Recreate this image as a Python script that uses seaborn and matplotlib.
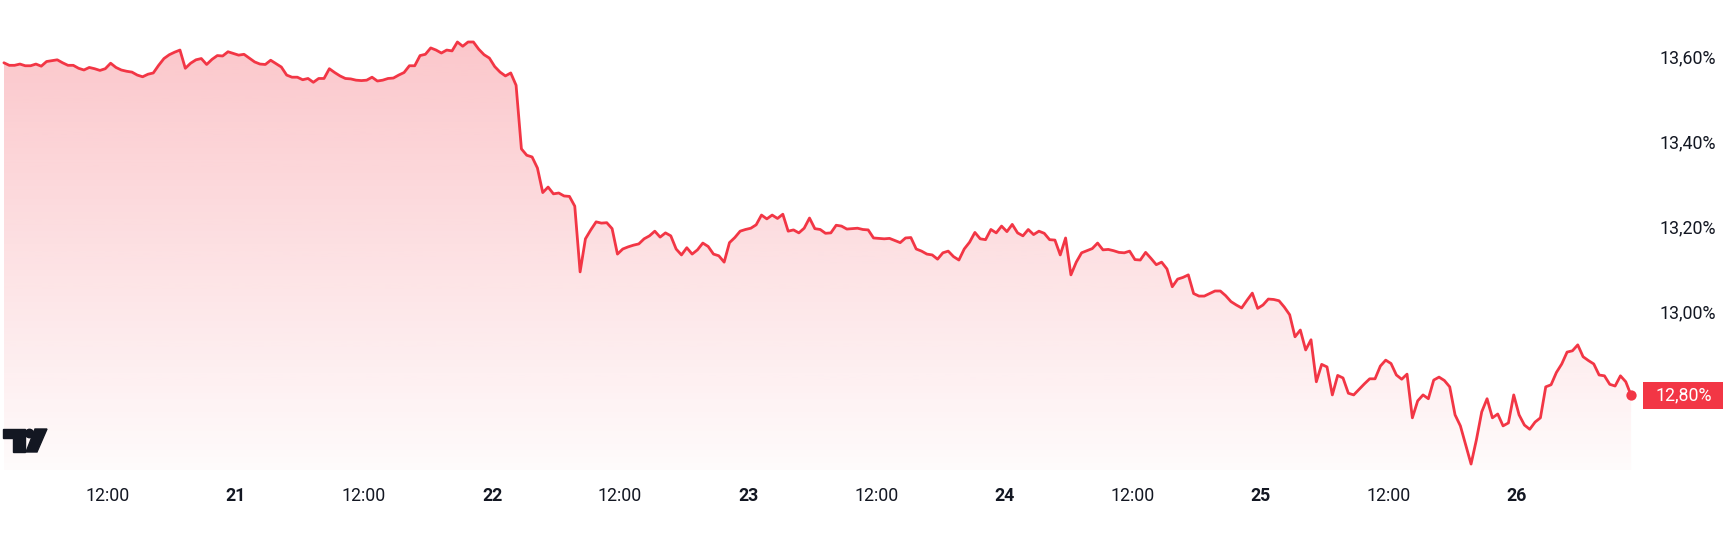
import matplotlib
matplotlib.use("Agg")
import matplotlib.pyplot as plt
import matplotlib.dates as mdates
import matplotlib.transforms as mtransforms
from matplotlib.patches import Polygon, Circle, Rectangle
from matplotlib.ticker import FuncFormatter
import numpy as np
import pandas as pd
import seaborn as sns

# half-hourly readings, starting on the 20th at 02:15
start_time = "2025-05-20 02:15"
step = "30min"
rate_pct = [
    13.586, 13.580, 13.580, 13.583, 13.579, 13.579, 13.583, 13.578, 13.589, 13.591, 13.593, 13.586,
    13.580, 13.580, 13.573, 13.569, 13.575, 13.572, 13.568, 13.572, 13.585, 13.575, 13.569, 13.566,
    13.564, 13.557, 13.553, 13.559, 13.562, 13.580, 13.596, 13.605, 13.611, 13.616, 13.573, 13.585,
    13.593, 13.596, 13.582, 13.594, 13.603, 13.602, 13.612, 13.608, 13.604, 13.606, 13.597, 13.588,
    13.583, 13.582, 13.592, 13.584, 13.576, 13.557, 13.552, 13.552, 13.546, 13.549, 13.540, 13.549,
    13.549, 13.572, 13.563, 13.555, 13.549, 13.548, 13.545, 13.544, 13.545, 13.552, 13.543, 13.545,
    13.549, 13.550, 13.557, 13.563, 13.579, 13.579, 13.603, 13.606, 13.621, 13.616, 13.609, 13.616,
    13.614, 13.635, 13.625, 13.635, 13.635, 13.618, 13.605, 13.597, 13.577, 13.564, 13.555, 13.562,
    13.533, 13.383, 13.368, 13.364, 13.338, 13.280, 13.293, 13.277, 13.279, 13.272, 13.271, 13.248,
    13.093, 13.171, 13.192, 13.211, 13.208, 13.209, 13.195, 13.135, 13.147, 13.152, 13.156, 13.159,
    13.171, 13.178, 13.189, 13.175, 13.185, 13.178, 13.147, 13.133, 13.150, 13.135, 13.145, 13.161,
    13.153, 13.135, 13.131, 13.116, 13.162, 13.174, 13.189, 13.193, 13.196, 13.204, 13.227, 13.218,
    13.227, 13.219, 13.229, 13.189, 13.192, 13.185, 13.196, 13.220, 13.195, 13.193, 13.184, 13.185,
    13.203, 13.201, 13.194, 13.195, 13.196, 13.193, 13.192, 13.173, 13.172, 13.171, 13.172, 13.167,
    13.162, 13.173, 13.174, 13.147, 13.142, 13.135, 13.133, 13.123, 13.138, 13.142, 13.129, 13.121,
    13.147, 13.163, 13.186, 13.171, 13.169, 13.193, 13.185, 13.201, 13.188, 13.205, 13.185, 13.178,
    13.193, 13.181, 13.189, 13.184, 13.169, 13.168, 13.133, 13.173, 13.086, 13.116, 13.138, 13.143,
    13.148, 13.161, 13.145, 13.146, 13.143, 13.139, 13.138, 13.142, 13.122, 13.121, 13.139, 13.125,
    13.110, 13.116, 13.100, 13.058, 13.076, 13.080, 13.086, 13.042, 13.036, 13.036, 13.042, 13.048,
    13.048, 13.037, 13.023, 13.015, 13.008, 13.026, 13.043, 13.007, 13.015, 13.029, 13.028, 13.025,
    13.010, 12.992, 12.940, 12.956, 12.909, 12.933, 12.834, 12.875, 12.869, 12.803, 12.849, 12.843,
    12.807, 12.803, 12.816, 12.829, 12.841, 12.841, 12.871, 12.885, 12.877, 12.850, 12.840, 12.852,
    12.749, 12.789, 12.803, 12.794, 12.838, 12.845, 12.837, 12.822, 12.756, 12.730, 12.685, 12.640,
    12.697, 12.763, 12.794, 12.749, 12.758, 12.730, 12.737, 12.803, 12.756, 12.732, 12.722, 12.739,
    12.749, 12.822, 12.827, 12.856, 12.876, 12.904, 12.907, 12.921, 12.893, 12.884, 12.876, 12.850,
    12.848, 12.828, 12.824, 12.848, 12.834, 12.802,
]
y_ticks = [13.0, 13.2, 13.4, 13.6]
y_min, y_max = 12.626, 13.734

line_color = "#F23645"
text_color = "#131722"

times = pd.date_range(start_time, periods=len(rate_pct), freq=step)
df = pd.DataFrame({"time": times, "rate": rate_pct})

sns.set_theme(style="white")
plt.rcParams["font.family"] = ["Roboto", "DejaVu Sans"]

fig = plt.figure(figsize=(17.29, 5.56), dpi=100)
ax = fig.add_axes([0, 86 / 556, 1640 / 1729, 470 / 556])

sns.lineplot(data=df, x="time", y="rate", color=line_color, linewidth=2.0, ax=ax, zorder=3)

# gradient area under the line
poly = ax.fill_between(df["time"], df["rate"], y_min, color="none", lw=0)
xn = mdates.date2num(times)
alpha = np.linspace(0.28, 0.02, 256)
img = np.zeros((256, 1, 4))
img[:, 0, 0] = 242 / 255
img[:, 0, 1] = 54 / 255
img[:, 0, 2] = 69 / 255
img[:, 0, 3] = alpha
im = ax.imshow(img, extent=[xn[0], xn[-1], y_min, max(rate_pct)], aspect="auto",
               origin="upper", zorder=1)
im.set_clip_path(poly.get_paths()[0], transform=ax.transData)

ax.scatter([times[-1]], [rate_pct[-1]], s=55, color=line_color, zorder=4, linewidths=0)

ax.set_xlim(pd.Timestamp(start_time) - pd.Timedelta(minutes=22), times[-1] + pd.Timedelta(minutes=50))
ax.set_ylim(y_min, y_max)

# x ticks: noon and midnight
ticks = pd.date_range("2025-05-20 12:00", "2025-05-26 00:00", freq="12h")
labels = ["12:00" if t.hour == 12 else str(t.day) for t in ticks]
ax.set_xticks(ticks)
ax.set_xticklabels(labels)
for lab, t in zip(ax.get_xticklabels(), ticks):
    if t.hour == 0:
        lab.set_fontweight("bold")
ax.tick_params(axis="x", length=0, pad=12, labelsize=12.8, colors=text_color)

ax.yaxis.tick_right()
ax.set_yticks(y_ticks)
ax.yaxis.set_major_formatter(FuncFormatter(lambda v, p: f"{v:.2f}".replace(".", ",") + "%"))
ax.tick_params(axis="y", length=0, pad=14, labelsize=12.8, colors=text_color)

ax.set_xlabel("")
ax.set_ylabel("")
ax.grid(False)
for s in ax.spines.values():
    s.set_visible(False)

# last value badge
blend = mtransforms.blended_transform_factory(ax.transAxes, ax.transData)
ax.add_patch(Rectangle((1643 / 1640, rate_pct[-1] - 0.032), 80 / 1640, 0.064,
                       transform=blend, clip_on=False, facecolor=line_color, edgecolor="none"))
ax.text(1684 / 1640, rate_pct[-1], f"{rate_pct[-1]:.2f}".replace(".", ",") + "%", transform=blend,
        ha="center", va="center", color="white", fontsize=12.8, clip_on=False)

# logo
ov = fig.add_axes([0, 0, 1, 1], zorder=5)
ov.set_xlim(0, 1729)
ov.set_ylim(556, 0)
ov.axis("off")
ov.patch.set_alpha(0)
ov.add_patch(Polygon([(3, 429), (25, 429), (25, 452), (13, 452), (13, 438), (3, 438)], color=text_color))
ov.add_patch(Circle((29.5, 433.5), 4.2, color=text_color))
ov.add_patch(Polygon([(35, 429), (47, 429), (37, 452), (26, 452)], color=text_color))

fig.savefig("out.png", dpi=100, facecolor="white")
plt.close(fig)
